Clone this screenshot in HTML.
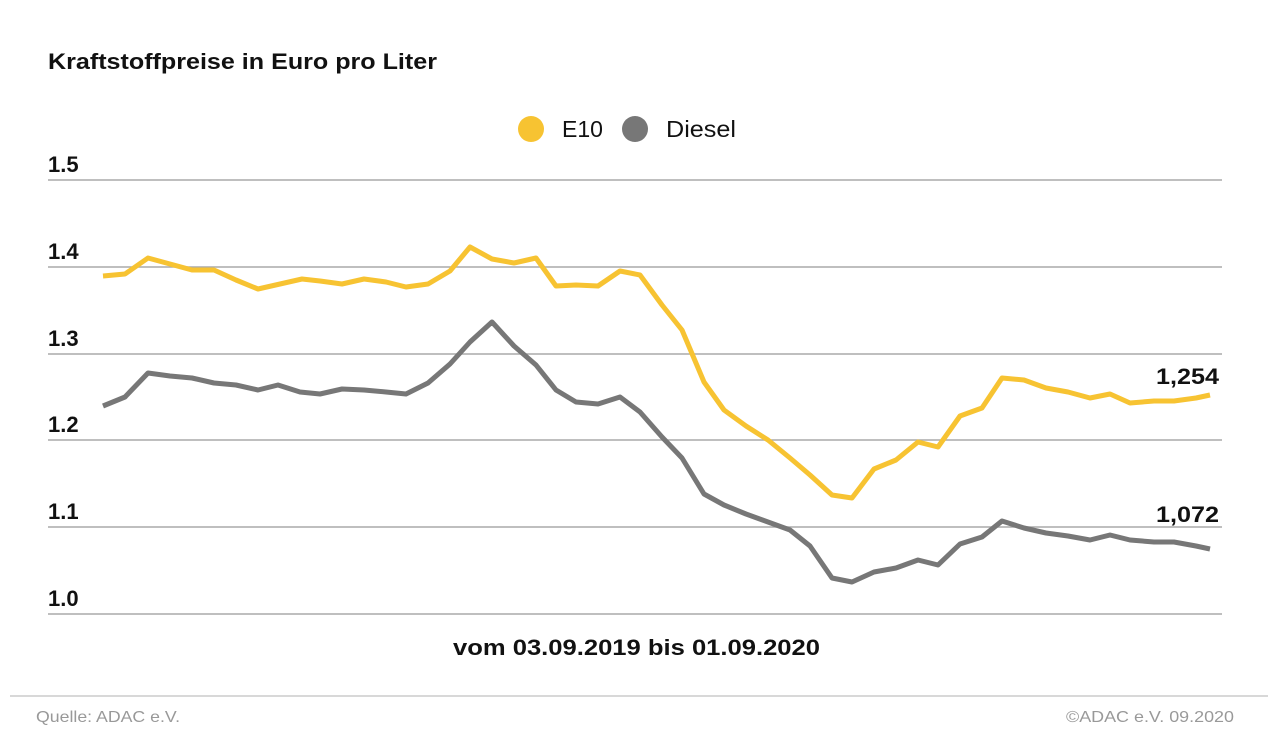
<!DOCTYPE html>
<html><head><meta charset="utf-8"><style>
html,body{margin:0;padding:0;background:#fff;}
svg{display:block;font-family:"Liberation Sans",sans-serif;}
</style></head><body>
<svg width="1280" height="754" viewBox="0 0 1280 754" xmlns="http://www.w3.org/2000/svg">
<rect width="1280" height="754" fill="#fff"/>
<text x="48" y="69" font-size="22" font-weight="bold" fill="#111" textLength="389" lengthAdjust="spacingAndGlyphs">Kraftstoffpreise in Euro pro Liter</text>
<circle cx="531" cy="129" r="13" fill="#f7c332"/>
<text x="562" y="137" font-size="23" fill="#111" textLength="41" lengthAdjust="spacingAndGlyphs">E10</text>
<circle cx="635" cy="129" r="13" fill="#777"/>
<text x="666" y="137" font-size="23" fill="#111" textLength="70" lengthAdjust="spacingAndGlyphs">Diesel</text>
<g stroke="#aaa" stroke-width="1.5">
<line x1="48" y1="180" x2="1222" y2="180"/>
<line x1="48" y1="267" x2="1222" y2="267"/>
<line x1="48" y1="354" x2="1222" y2="354"/>
<line x1="48" y1="440" x2="1222" y2="440"/>
<line x1="48" y1="527" x2="1222" y2="527"/>
<line x1="48" y1="614" x2="1222" y2="614"/>
</g>
<g font-size="22" font-weight="bold" fill="#111">
<text x="48" y="172">1.5</text>
<text x="48" y="259">1.4</text>
<text x="48" y="346">1.3</text>
<text x="48" y="432">1.2</text>
<text x="48" y="519">1.1</text>
<text x="48" y="606">1.0</text>
</g>
<polyline fill="none" stroke="#f7c332" stroke-width="5" stroke-linejoin="round" points="103,276 125,274 148,258 170,264 192,270 214,270 236,280 258,289 280,284 302,279 320,281 342,284 364,279 386,282 406,287 428,284 450,271 470,247 492,259 514,263 536,258 556,286 576,285 598,286 620,271 640,275 662,305 682,330 704,382 724,410 746,426 768,440 790,458 810,475 832,495 852,498 874,469 896,460 918,442 938,447 960,416 982,408 1002,378 1024,380 1046,388 1068,392 1090,398 1110,394 1130,403 1154,401 1174,401 1196,398 1210,395"/>
<polyline fill="none" stroke="#777" stroke-width="5" stroke-linejoin="round" points="103,406 125,397 148,373 170,376 192,378 214,383 236,385 258,390 278,385 300,392 320,394 342,389 364,390 386,392 406,394 428,383 450,364 470,342 492,322 514,346 536,365 556,390 576,402 598,404 620,397 640,412 662,437 682,458 704,494 724,505 746,514 768,522 790,530 810,546 832,578 852,582 874,572 896,568 918,560 938,565 960,544 982,537 1002,521 1024,528 1046,533 1068,536 1090,540 1110,535 1130,540 1154,542 1174,542 1196,546 1210,549"/>
<text x="1156" y="384" font-size="22" font-weight="bold" fill="#111" textLength="63" lengthAdjust="spacingAndGlyphs">1,254</text>
<text x="1156" y="522" font-size="22" font-weight="bold" fill="#111" textLength="63" lengthAdjust="spacingAndGlyphs">1,072</text>
<text x="453" y="655" font-size="22" font-weight="bold" fill="#111" textLength="367" lengthAdjust="spacingAndGlyphs">vom 03.09.2019 bis 01.09.2020</text>
<line x1="10" y1="696" x2="1268" y2="696" stroke="#ccc" stroke-width="1.5"/>
<text x="36" y="722" font-size="16" fill="#999" textLength="144" lengthAdjust="spacingAndGlyphs">Quelle: ADAC e.V.</text>
<text x="1066" y="722" font-size="16" fill="#999" textLength="168" lengthAdjust="spacingAndGlyphs">©ADAC e.V. 09.2020</text>
</svg>
</body></html>
